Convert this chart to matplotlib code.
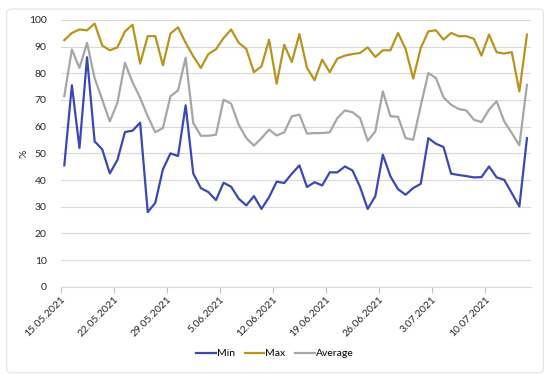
import numpy as np
import pandas as pd
import matplotlib.pyplot as plt
from matplotlib.patches import FancyBboxPatch

plt.switch_backend('Agg')
plt.rcParams['font.family'] = ['Lato', 'DejaVu Sans']

# daily values, 15.05.2021 - 15.07.2021
dates = pd.date_range('2021-05-15', periods=62, freq='D')

min_vals = [45.5, 75.5, 52, 86, 54.5, 51.5, 42.5, 47.5, 58, 58.5,
            61.5, 28, 31.5, 44, 50, 49, 68, 42.5, 37, 35.5,
            32.5, 39, 37.5, 33, 30.5, 34, 29.2, 33.6, 39.4, 38.9,
            42.4, 45.5, 37.4, 39.2, 38, 42.9, 42.9, 45.1, 43.6, 37.4,
            29.2, 33.9, 49.5, 41.4, 36.6, 34.5, 37, 38.6, 55.7, 53.6,
            52.4, 42.4, 41.9, 41.5, 41, 41.1, 45.1, 41, 40.1, 35.1,
            30.1, 55.7]

max_vals = [92.4, 95.1, 96.4, 96.1, 98.6, 90.4, 88.6, 89.7, 95.7, 98.2,
            83.6, 93.9, 93.9, 83, 94.9, 97.2, 91.4, 86.4, 82, 87.2,
            89, 93.2, 96.4, 91.4, 89.1, 80.4, 82.6, 92.6, 76.1, 90.7,
            84.2, 94.7, 82, 77.4, 85.1, 80.4, 85.5, 86.6, 87.2, 87.6,
            89.7, 86.1, 88.6, 88.6, 95.1, 89.1, 78, 89.5, 95.7, 96.1,
            92.6, 95.1, 93.9, 93.9, 92.9, 86.6, 94.5, 87.9, 87.4, 87.9,
            73.2, 94.5]

avg_vals = [71.4, 88.9, 82, 91.4, 78.2, 70.1, 62, 68.9, 83.9, 76.6,
            70.8, 63.9, 57.9, 59.5, 71.4, 73.6, 85.8, 61.4, 56.6, 56.6,
            57, 70.1, 68.6, 60.7, 55.7, 52.9, 55.7, 58.9, 56.7, 57.9,
            63.9, 64.5, 57.4, 57.6, 57.6, 57.9, 63.2, 66.1, 65.4, 63.2,
            54.7, 58.2, 73.2, 63.9, 63.7, 55.7, 55.1, 67.9, 80.1, 78.2,
            71, 68.2, 66.6, 66.1, 62.6, 61.7, 66.4, 69.5, 62, 57.6,
            53, 75.7]

series_names = ['Min', 'Max', 'Average']
colors = ['#3A48B4', '#B8941F', '#A6A6A6']

fig = plt.figure(figsize=(5.5, 3.75), dpi=100)
ax = fig.add_axes([0.11, 0.235, 0.855, 0.712])

# chart border like the office chart frame
fig.patches.append(FancyBboxPatch((0.012, 0.006), 0.976, 0.97,
                                  boxstyle='round,pad=0,rounding_size=0.01',
                                  transform=fig.transFigure, fill=False,
                                  edgecolor='#E3E3E3', linewidth=0.8))

x = np.arange(len(dates))
for name, vals, c in zip(series_names, [min_vals, max_vals, avg_vals], colors):
    ax.plot(x, vals, color=c, linewidth=1.6, label=name)

ax.set_xlim(-0.5, len(dates) - 0.5)
ax.set_ylim(0, 100)
ax.set_yticks(range(0, 101, 10))
ax.grid(axis='y', color='#D9D9D9', linewidth=0.8)
ax.set_axisbelow(True)

tick_pos = np.arange(0, len(dates), 7)
ax.set_xticks(tick_pos - 0.5)
ax.set_xticklabels([f"{dates[i].day}.{dates[i].month:02d}.{dates[i].year}" for i in tick_pos],
                   rotation=45, ha='right', rotation_mode='anchor')

for s in ['top', 'right', 'left']:
    ax.spines[s].set_visible(False)
ax.spines['bottom'].set_color('#D9D9D9')
ax.tick_params(axis='y', length=0, labelsize=7.5, colors='#262626', pad=10)
ax.tick_params(axis='x', length=4, color='#BFBFBF', labelsize=7.5, colors='#262626', pad=2)
ax.set_ylabel('%', fontsize=7.5, color='#262626', labelpad=0)

fig.legend(loc='center', bbox_to_anchor=(0.5, 0.057), ncol=3, frameon=False,
           fontsize=7.5, handlelength=1.9, handletextpad=0.1, columnspacing=0.9)

fig.savefig('out.png', dpi=100)
